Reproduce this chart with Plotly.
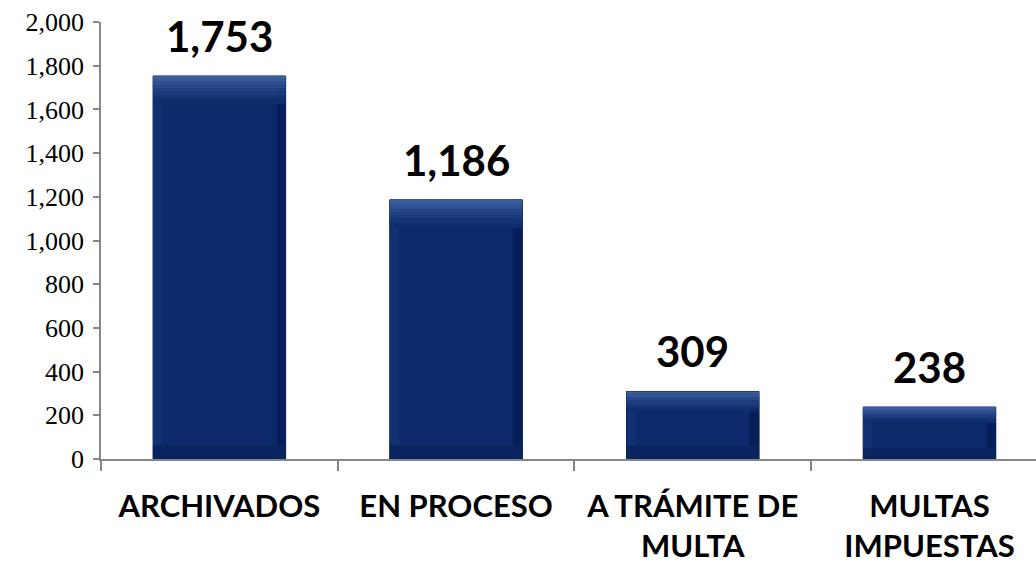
import plotly.graph_objects as go

categories = ["ARCHIVADOS", "EN PROCESO", "A TRÁMITE DE<br>MULTA", "MULTAS<br>IMPUESTAS"]
values = [1753, 1186, 309, 238]
tick_vals = [0, 200, 400, 600, 800, 1000, 1200, 1400, 1600, 1800, 2000]

BAR_W = 0.56
Y_MAX = 2000
PLOT_PX = 437
U = Y_MAX / PLOT_PX  # data units per pixel

fig = go.Figure()
# main face
fig.add_trace(go.Bar(x=categories, y=values, width=BAR_W,
                     marker=dict(color="#0b296b", line=dict(color="#061a4c", width=1)),
                     hoverinfo="skip"))
# side shading (left lighter, right darker)
side_w = BAR_W * 0.07
fig.add_trace(go.Bar(x=categories, y=values, width=side_w, offset=-BAR_W / 2,
                     marker=dict(color="#123173", line=dict(width=0)), hoverinfo="skip"))
fig.add_trace(go.Bar(x=categories, y=values, width=side_w, offset=BAR_W / 2 - side_w,
                     marker=dict(color="#071f58", line=dict(width=0)), hoverinfo="skip"))
# bottom darker strip
bot = [min(14 * U, 0.2 * v) for v in values]
fig.add_trace(go.Bar(x=categories, y=bot, base=[0] * len(values), width=BAR_W,
                     marker=dict(color="#09245f", line=dict(width=0)), hoverinfo="skip"))
# top bevel gradient
grad = ["#3d5e9e", "#365797", "#2f5090", "#28498a", "#224283", "#1c3c7d", "#163676", "#113171", "#0e2d6d"]
bev = [min(28 * U, 0.3 * v) for v in values]
step = [b / len(grad) for b in bev]
for i, col in enumerate(grad):
    base = [v - (i + 1) * s for v, s in zip(values, step)]
    fig.add_trace(go.Bar(x=categories, y=step, base=base, width=BAR_W,
                         marker=dict(color=col, line=dict(width=0)), hoverinfo="skip"))

for c, v in zip(categories, values):
    fig.add_annotation(x=c, y=v, text=f"<b>{v:,}</b>", showarrow=False, yanchor="bottom",
                       yshift=13, font=dict(family="Lato", size=42, color="#000000"))

fig.update_layout(
    width=1036, height=565, barmode="overlay", showlegend=False,
    paper_bgcolor="white", plot_bgcolor="white",
    margin=dict(l=101, r=0, t=22, b=106),
    xaxis=dict(range=[-0.5, 3.45], showgrid=False, showline=True, linecolor="#868686", linewidth=1.5,
               ticks="outside", tickson="boundaries", ticklen=10, tickcolor="#868686", tickwidth=1.5,
               tickfont=dict(family="Lato", size=31, color="#000000"), ticklabelstandoff=19,
               automargin=False,
               tickvals=categories, ticktext=[f"<b>{c}</b>" for c in categories]),
    yaxis=dict(range=[0, Y_MAX], tickvals=tick_vals, tickformat=",d", showgrid=False, zeroline=False,
               showline=True, linecolor="#868686", linewidth=1.5, ticks="outside", ticklen=6,
               tickcolor="#868686", tickwidth=1.5, ticklabelstandoff=4, automargin=False,
               tickfont=dict(family="Liberation Serif", size=26, color="#000000")),
)

fig.write_html("out.html", config={"displayModeBar": False},
               post_script="document.body.style.margin='0';document.body.style.padding='0';")
